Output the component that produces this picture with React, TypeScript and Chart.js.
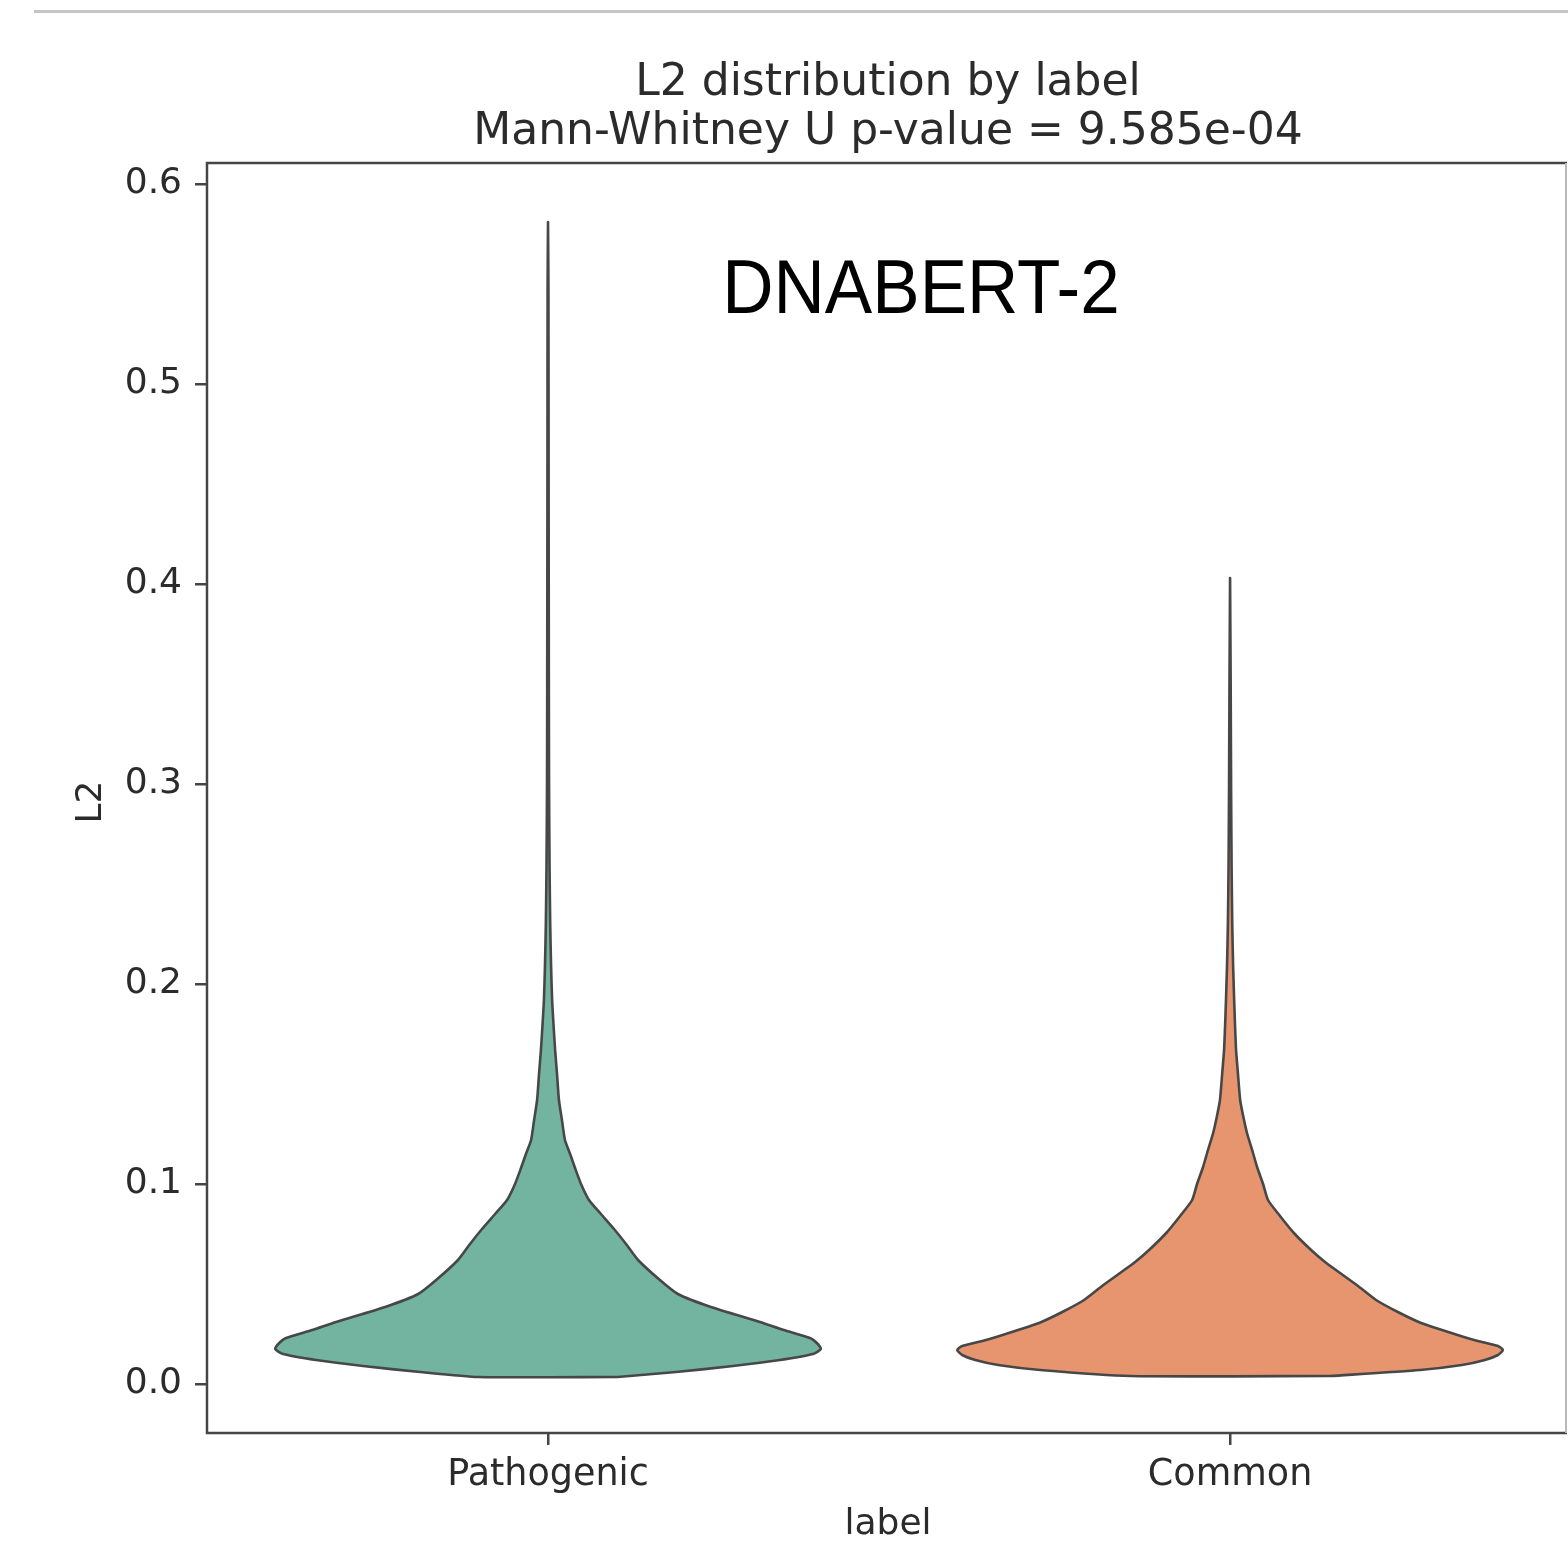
import React, { useEffect, useRef } from 'react';
import { Chart, registerables } from 'chart.js';

Chart.register(...registerables);

// ---------------- data ----------------
const categories = ['Pathogenic', 'Common'];
const yTickValues = [0, 0.1, 0.2, 0.3, 0.4, 0.5, 0.6];

// L2 levels (y) and relative KDE half-width (0..1) of each violin outline
const pathogenicL2 = [
  0.0035, 0.006, 0.009, 0.012, 0.015, 0.0175, 0.02, 0.023, 0.027, 0.031, 0.0385, 0.045,
  0.052, 0.062, 0.07, 0.0775, 0.085, 0.092, 0.1, 0.108, 0.115, 0.122, 0.132, 0.142,
  0.155, 0.167, 0.18, 0.192, 0.21, 0.23, 0.26, 0.3, 0.35, 0.45, 0.55, 0.581,
];
const pathogenicDensity = [
  0.256, 0.469, 0.678, 0.85, 0.971, 1.0, 0.989, 0.96, 0.864, 0.777, 0.597, 0.476,
  0.41, 0.33, 0.286, 0.242, 0.194, 0.15, 0.121, 0.099, 0.081, 0.062, 0.051, 0.04,
  0.033, 0.026, 0.02, 0.015, 0.011, 0.008, 0.0055, 0.0037, 0.003, 0.0022, 0.0015, 0,
];
const commonL2 = [
  0.004, 0.007, 0.0095, 0.012, 0.0145, 0.017, 0.019, 0.0215, 0.0235, 0.027, 0.0305, 0.036,
  0.042, 0.049, 0.0555, 0.061, 0.067, 0.0755, 0.084, 0.092, 0.1, 0.1085, 0.117, 0.1255,
  0.134, 0.142, 0.155, 0.167, 0.18, 0.192, 0.21, 0.23, 0.26, 0.3, 0.35, 0.403,
];
const commonDensity = [
  0.366, 0.696, 0.85, 0.934, 0.982, 1.0, 0.982, 0.908, 0.857, 0.777, 0.7, 0.615,
  0.535, 0.469, 0.403, 0.348, 0.297, 0.234, 0.183, 0.139, 0.121, 0.099, 0.081, 0.062,
  0.048, 0.037, 0.029, 0.022, 0.018, 0.015, 0.011, 0.008, 0.0055, 0.0037, 0.0022, 0,
];

const violinColors = ['#72b4a0', '#e6956f'];
const titleLines = ['L2 distribution by label', 'Mann-Whitney U p-value = 9.585e-04'];
const watermarkText = 'DNABERT-2';
const xAxisTitle = 'label';
const yAxisTitle = 'L2';

// ---------------- helpers ----------------
const MAX_HALF_WIDTH = 0.4;

function violinOutline(center: number, values: number[], density: number[]) {
  const right = values.map((v, i) => ({ x: center + density[i] * MAX_HALF_WIDTH, y: v }));
  const left = values
    .map((v, i) => ({ x: center - density[i] * MAX_HALF_WIDTH, y: v }))
    .reverse();
  return [...right, ...left, right[0]];
}

const TEXT_COLOR = '#2b2b2b';
const AXIS_COLOR = '#454545';
const FONT = '"DejaVu Sans", sans-serif';

const decorPlugin = {
  id: 'decor',
  beforeDraw(chart: any) {
    const { ctx } = chart;
    ctx.save();
    ctx.fillStyle = '#ffffff';
    ctx.fillRect(0, 0, chart.width, chart.height);
    ctx.fillStyle = '#c4c4c4';
    ctx.fillRect(34, 10, chart.width - 34, 3);
    ctx.restore();
  },
  afterDraw(chart: any) {
    const { ctx, chartArea } = chart;
    const { left, right, top, bottom } = chartArea;
    const cx = 888;
    ctx.save();
    // frame
    ctx.strokeStyle = AXIS_COLOR;
    ctx.lineWidth = 2.5;
    ctx.beginPath();
    ctx.moveTo(right, top);
    ctx.lineTo(left, top);
    ctx.lineTo(left, bottom);
    ctx.lineTo(right, bottom);
    ctx.stroke();
    ctx.strokeStyle = '#b8b8b8';
    ctx.lineWidth = 2;
    ctx.beginPath();
    ctx.moveTo(right - 1, top);
    ctx.lineTo(right - 1, bottom);
    ctx.stroke();

    // title
    ctx.fillStyle = TEXT_COLOR;
    ctx.textAlign = 'center';
    ctx.textBaseline = 'alphabetic';
    ctx.font = `44px ${FONT}`;
    ctx.fillText(titleLines[0], cx, 95);
    ctx.fillText(titleLines[1], cx, 144);

    // axis titles
    ctx.font = `36px ${FONT}`;
    ctx.textBaseline = 'middle';
    ctx.fillText(xAxisTitle, cx, 1525);
    ctx.save();
    ctx.translate(92, (top + bottom) / 2 + 4);
    ctx.rotate(-Math.PI / 2);
    ctx.fillText(yAxisTitle, 0, 0);
    ctx.restore();

    // watermark label
    ctx.fillStyle = '#000000';
    ctx.font = '76px "Liberation Sans", Arial, sans-serif';
    ctx.textBaseline = 'alphabetic';
    ctx.save();
    ctx.translate(921, 313);
    ctx.scale(0.935, 1);
    ctx.fillText(watermarkText, 0, 0);
    ctx.restore();
    ctx.restore();
  },
};

export default function App() {
  const canvasRef = useRef<HTMLCanvasElement | null>(null);

  useEffect(() => {
    const canvas = canvasRef.current;
    if (!canvas) return;

    const series = [
      { values: pathogenicL2, density: pathogenicDensity },
      { values: commonL2, density: commonDensity },
    ];

    const chart = new Chart(canvas, {
      type: 'scatter',
      data: {
        datasets: series.map((s, i) => ({
          label: categories[i],
          data: violinOutline(i, s.values, s.density),
          showLine: true,
          fill: 'shape',
          backgroundColor: violinColors[i],
          borderColor: '#474747',
          borderWidth: 2.6,
          borderJoinStyle: 'round',
          borderCapStyle: 'round',
          pointRadius: 0,
          pointHoverRadius: 0,
          tension: 0.2,
        })),
      },
      options: {
        responsive: false,
        animation: false,
        events: [],
        layout: { padding: { top: 163, right: 1, left: 0, bottom: 0 } },
        plugins: {
          legend: { display: false },
          title: { display: false },
          tooltip: { enabled: false },
        },
        scales: {
          x: {
            type: 'linear',
            min: -0.5,
            max: 1.494,
            afterBuildTicks: (axis: any) => {
              axis.ticks = categories.map((_, i) => ({ value: i }));
            },
            afterFit: (axis: any) => {
              axis.height = 116;
            },
            border: { display: false },
            grid: {
              drawOnChartArea: false,
              drawTicks: true,
              tickLength: 12,
              color: AXIS_COLOR,
              lineWidth: 2.5,
            },
            ticks: {
              autoSkip: false,
              maxRotation: 0,
              padding: 9,
              color: TEXT_COLOR,
              font: { family: FONT, size: 36.5 },
              callback: (value: any) => categories[Math.round(Number(value))] ?? '',
            },
          },
          y: {
            type: 'linear',
            min: -0.0245,
            max: 0.6105,
            afterBuildTicks: (axis: any) => {
              axis.ticks = yTickValues.map((v) => ({ value: v }));
            },
            afterFit: (axis: any) => {
              axis.width = 207;
            },
            border: { display: false },
            grid: {
              drawOnChartArea: false,
              drawTicks: true,
              tickLength: 12,
              color: AXIS_COLOR,
              lineWidth: 2.5,
            },
            ticks: {
              padding: 13,
              color: TEXT_COLOR,
              font: { family: FONT, size: 36 },
              callback: (value: any) => Number(value).toFixed(1),
            },
          },
        },
      },
      plugins: [decorPlugin],
    } as any);

    return () => chart.destroy();
  }, []);

  return (
    <canvas
      ref={canvasRef}
      width={1568}
      height={1549}
      style={{ position: 'absolute', left: 0, top: 0, display: 'block', width: 1568, height: 1549 }}
    />
  );
}
